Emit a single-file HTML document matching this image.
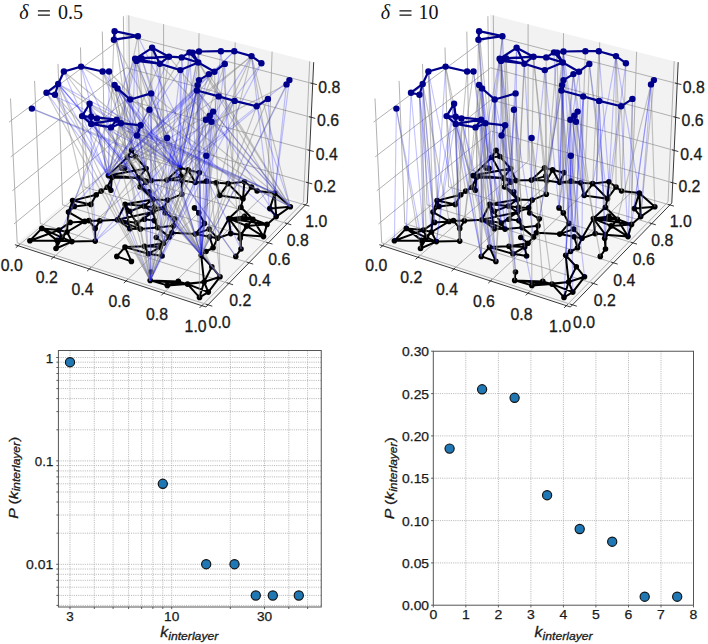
<!DOCTYPE html>
<html><head><meta charset="utf-8"><style>
html,body{margin:0;padding:0;background:#fff;}
body{width:708px;height:644px;overflow:hidden;}
svg{display:block;font-family:"Liberation Sans", sans-serif;}
</style></head><body>
<svg width="708" height="644" viewBox="0 0 708 644">
<g><polygon points="127.2,150.7 307.3,203 313.7,62.2 125.6,14.6" fill="#f2f2f2"/>
<polygon points="14.9,244.7 205.9,307 307.3,203 127.2,150.7" fill="#f5f5f5"/>
<g fill="none" stroke="#a4a4a4" stroke-width="0.85"><polyline points="18.1,245.8 130.2,151.6 128.8,15.4"/><polyline points="208,304.9 17.2,242.8 10.5,98.5"/><polyline points="53.4,257.3 163.6,161.3 163.6,24.2"/><polyline points="228.9,283.5 40.3,223.5 34.6,80.9"/><polyline points="89.4,269 197.6,171.1 199,33.2"/><polyline points="249,262.8 62.5,204.8 58,63.9"/><polyline points="126.1,281 232.2,181.2 235.2,42.4"/><polyline points="268.4,242.9 84,186.8 80.5,47.5"/><polyline points="163.5,293.2 267.5,191.5 272.1,51.7"/><polyline points="287.2,223.6 104.9,169.4 102.3,31.6"/><polyline points="201.8,305.7 303.5,201.9 309.7,61.2"/><polyline points="305.4,205 125,152.5 123.4,16.2"/><polyline points="13.9,224 126.9,131.1 308.2,182.8"/><polyline points="12.3,190.8 126.6,99.8 309.7,150.4"/><polyline points="10.7,156.9 126.2,67.8 311.2,117.3"/><polyline points="9,122.2 125.8,35.2 312.7,83.6"/></g>
<g fill="none" stroke="#222" stroke-width="0.9"><polyline points="14.9,244.7 205.9,307"/><polyline points="205.9,307 307.3,203"/><polyline points="307.3,203 313.7,62.2"/><polyline points="19.5,244.6 15.8,247.7"/><polyline points="205.7,304.1 212.3,306.2"/><polyline points="54.8,256.1 51.1,259.3"/><polyline points="226.6,282.7 233.1,284.8"/><polyline points="90.7,267.8 87.1,271.1"/><polyline points="246.7,262.1 253.2,264.1"/><polyline points="127.4,279.7 123.8,283.1"/><polyline points="266.2,242.2 272.5,244.1"/><polyline points="164.8,291.9 161.3,295.4"/><polyline points="285,222.9 291.3,224.8"/><polyline points="203.1,304.4 199.6,307.9"/><polyline points="303.2,204.3 309.4,206.1"/><polyline points="306,182.2 312.3,183.9"/><polyline points="307.5,149.8 313.8,151.5"/><polyline points="309,116.7 315.3,118.4"/><polyline points="310.5,83 316.9,84.6"/></g>
<g fill="#1a1a1a" stroke="#1a1a1a" stroke-width="0.3"><text x="11.7" y="271.1" font-size="15.6" text-anchor="middle" textLength="22" lengthAdjust="spacingAndGlyphs" >0.0</text><text x="46.7" y="282.8" font-size="15.6" text-anchor="middle" textLength="22" lengthAdjust="spacingAndGlyphs" >0.2</text><text x="82.5" y="294.5" font-size="15.6" text-anchor="middle" textLength="22" lengthAdjust="spacingAndGlyphs" >0.4</text><text x="119.4" y="306.7" font-size="15.6" text-anchor="middle" textLength="22" lengthAdjust="spacingAndGlyphs" >0.6</text><text x="157" y="319.6" font-size="15.6" text-anchor="middle" textLength="22" lengthAdjust="spacingAndGlyphs" >0.8</text><text x="195.6" y="331.5" font-size="15.6" text-anchor="middle" textLength="22" lengthAdjust="spacingAndGlyphs" >1.0</text><text x="219.6" y="327.5" font-size="15.6" text-anchor="middle" textLength="22" lengthAdjust="spacingAndGlyphs" >0.0</text><text x="240.2" y="306.2" font-size="15.6" text-anchor="middle" textLength="22" lengthAdjust="spacingAndGlyphs" >0.2</text><text x="259.8" y="285.5" font-size="15.6" text-anchor="middle" textLength="22" lengthAdjust="spacingAndGlyphs" >0.4</text><text x="279.3" y="265.3" font-size="15.6" text-anchor="middle" textLength="22" lengthAdjust="spacingAndGlyphs" >0.6</text><text x="297.8" y="245.7" font-size="15.6" text-anchor="middle" textLength="22" lengthAdjust="spacingAndGlyphs" >0.8</text><text x="316.3" y="226.8" font-size="15.6" text-anchor="middle" textLength="22" lengthAdjust="spacingAndGlyphs" >1.0</text><text x="324.9" y="191.5" font-size="15.6" text-anchor="middle" textLength="22" lengthAdjust="spacingAndGlyphs" >0.2</text><text x="326.8" y="159.6" font-size="15.6" text-anchor="middle" textLength="22" lengthAdjust="spacingAndGlyphs" >0.4</text><text x="328.1" y="126.2" font-size="15.6" text-anchor="middle" textLength="22" lengthAdjust="spacingAndGlyphs" >0.6</text><text x="329.2" y="92.7" font-size="15.6" text-anchor="middle" textLength="22" lengthAdjust="spacingAndGlyphs" >0.8</text></g></g>
<g transform="translate(364.5,0)"><polygon points="127.2,150.7 307.3,203 313.7,62.2 125.6,14.6" fill="#f2f2f2"/>
<polygon points="14.9,244.7 205.9,307 307.3,203 127.2,150.7" fill="#f5f5f5"/>
<g fill="none" stroke="#a4a4a4" stroke-width="0.85"><polyline points="18.1,245.8 130.2,151.6 128.8,15.4"/><polyline points="208,304.9 17.2,242.8 10.5,98.5"/><polyline points="53.4,257.3 163.6,161.3 163.6,24.2"/><polyline points="228.9,283.5 40.3,223.5 34.6,80.9"/><polyline points="89.4,269 197.6,171.1 199,33.2"/><polyline points="249,262.8 62.5,204.8 58,63.9"/><polyline points="126.1,281 232.2,181.2 235.2,42.4"/><polyline points="268.4,242.9 84,186.8 80.5,47.5"/><polyline points="163.5,293.2 267.5,191.5 272.1,51.7"/><polyline points="287.2,223.6 104.9,169.4 102.3,31.6"/><polyline points="201.8,305.7 303.5,201.9 309.7,61.2"/><polyline points="305.4,205 125,152.5 123.4,16.2"/><polyline points="13.9,224 126.9,131.1 308.2,182.8"/><polyline points="12.3,190.8 126.6,99.8 309.7,150.4"/><polyline points="10.7,156.9 126.2,67.8 311.2,117.3"/><polyline points="9,122.2 125.8,35.2 312.7,83.6"/></g>
<g fill="none" stroke="#222" stroke-width="0.9"><polyline points="14.9,244.7 205.9,307"/><polyline points="205.9,307 307.3,203"/><polyline points="307.3,203 313.7,62.2"/><polyline points="19.5,244.6 15.8,247.7"/><polyline points="205.7,304.1 212.3,306.2"/><polyline points="54.8,256.1 51.1,259.3"/><polyline points="226.6,282.7 233.1,284.8"/><polyline points="90.7,267.8 87.1,271.1"/><polyline points="246.7,262.1 253.2,264.1"/><polyline points="127.4,279.7 123.8,283.1"/><polyline points="266.2,242.2 272.5,244.1"/><polyline points="164.8,291.9 161.3,295.4"/><polyline points="285,222.9 291.3,224.8"/><polyline points="203.1,304.4 199.6,307.9"/><polyline points="303.2,204.3 309.4,206.1"/><polyline points="306,182.2 312.3,183.9"/><polyline points="307.5,149.8 313.8,151.5"/><polyline points="309,116.7 315.3,118.4"/><polyline points="310.5,83 316.9,84.6"/></g>
<g fill="#1a1a1a" stroke="#1a1a1a" stroke-width="0.3"><text x="11.7" y="271.1" font-size="15.6" text-anchor="middle" textLength="22" lengthAdjust="spacingAndGlyphs" >0.0</text><text x="46.7" y="282.8" font-size="15.6" text-anchor="middle" textLength="22" lengthAdjust="spacingAndGlyphs" >0.2</text><text x="82.5" y="294.5" font-size="15.6" text-anchor="middle" textLength="22" lengthAdjust="spacingAndGlyphs" >0.4</text><text x="119.4" y="306.7" font-size="15.6" text-anchor="middle" textLength="22" lengthAdjust="spacingAndGlyphs" >0.6</text><text x="157" y="319.6" font-size="15.6" text-anchor="middle" textLength="22" lengthAdjust="spacingAndGlyphs" >0.8</text><text x="195.6" y="331.5" font-size="15.6" text-anchor="middle" textLength="22" lengthAdjust="spacingAndGlyphs" >1.0</text><text x="219.6" y="327.5" font-size="15.6" text-anchor="middle" textLength="22" lengthAdjust="spacingAndGlyphs" >0.0</text><text x="240.2" y="306.2" font-size="15.6" text-anchor="middle" textLength="22" lengthAdjust="spacingAndGlyphs" >0.2</text><text x="259.8" y="285.5" font-size="15.6" text-anchor="middle" textLength="22" lengthAdjust="spacingAndGlyphs" >0.4</text><text x="279.3" y="265.3" font-size="15.6" text-anchor="middle" textLength="22" lengthAdjust="spacingAndGlyphs" >0.6</text><text x="297.8" y="245.7" font-size="15.6" text-anchor="middle" textLength="22" lengthAdjust="spacingAndGlyphs" >0.8</text><text x="316.3" y="226.8" font-size="15.6" text-anchor="middle" textLength="22" lengthAdjust="spacingAndGlyphs" >1.0</text><text x="324.9" y="191.5" font-size="15.6" text-anchor="middle" textLength="22" lengthAdjust="spacingAndGlyphs" >0.2</text><text x="326.8" y="159.6" font-size="15.6" text-anchor="middle" textLength="22" lengthAdjust="spacingAndGlyphs" >0.4</text><text x="328.1" y="126.2" font-size="15.6" text-anchor="middle" textLength="22" lengthAdjust="spacingAndGlyphs" >0.6</text><text x="329.2" y="92.7" font-size="15.6" text-anchor="middle" textLength="22" lengthAdjust="spacingAndGlyphs" >0.8</text></g></g>
<g><path d="M29.9 240.7L41.8 228.4M29.9 240.7L58.9 230.1M29.9 240.7L57.1 240.4M41.8 228.4L58.9 230.1M41.8 228.4L62.1 237.6M41.8 228.4L57.1 240.4M56.0 248.5L62.1 237.6M56.0 248.5L57.1 240.4M56.0 248.5L71.9 241.6M58.9 230.1L62.1 237.6M58.9 230.1L67.0 232.0M58.9 230.1L70.1 222.4M62.1 237.6L67.0 232.0M62.1 237.6L71.9 241.6M67.0 232.0L57.1 240.4M67.0 232.0L71.9 241.6M67.0 232.0L84.7 221.4M67.0 232.0L68.5 212.1M57.1 240.4L71.9 241.6M71.9 241.6L95.2 241.1M95.2 241.1L95.2 228.4M95.2 228.4L88.9 220.6M95.2 228.4L99.9 220.8M88.9 220.6L84.7 221.4M88.9 220.6L99.9 220.8M84.7 221.4L70.1 222.4M84.7 221.4L68.5 212.1M68.5 212.1L72.6 200.6M68.5 212.1L74.4 206.4M72.6 200.6L74.4 206.4M72.6 200.6L90.8 204.4M72.6 200.6L96.3 194.8M74.4 206.4L90.8 204.4M90.8 204.4L96.3 194.8M96.3 194.8L101.2 191.1M101.2 191.1L107.3 187.3M107.3 187.3L110.8 190.3M107.3 187.3L111.9 177.5M110.8 190.3L111.9 177.5M117.4 219.8L125.1 204.3M117.4 219.8L129.8 228.8M117.4 219.8L136.7 223.1M117.4 219.8L140.5 229.1M117.4 219.8L152.9 212.1M117.4 219.8L99.9 220.8M125.1 204.3L129.8 228.8M125.1 204.3L136.7 223.1M125.1 204.3L152.9 199.4M125.1 204.3L143.9 206.1M125.1 204.3L129.9 211.2M116.8 256.4L125.0 247.1M116.8 256.4L131.4 261.4M125.0 247.1L131.4 261.4M125.0 247.1L144.5 246.2M125.0 247.1L148.4 253.8M144.5 246.2L148.4 253.8M144.5 246.2L163.5 243.2M144.5 246.2L160.2 247.1M129.8 228.8L140.5 229.1M136.7 223.1L140.5 229.1M136.7 223.1L144.4 219.2M136.7 223.1L152.9 212.1M148.4 253.8L162.1 256.0M148.4 253.8L160.2 247.1M162.1 256.0L160.2 247.1M163.5 243.2L169.1 236.9M163.5 243.2L160.2 247.1M163.5 243.2L156.3 237.5M151.0 272.0L150.2 280.4M150.2 280.4L167.3 285.4M150.2 280.4L178.3 281.4M150.2 280.4L187.5 284.1M167.3 285.4L178.3 281.4M167.3 285.4L187.5 284.1M167.3 285.4L204.1 282.0M178.3 281.4L187.5 284.1M187.5 284.1L199.5 297.4M187.5 284.1L208.3 292.1M187.5 284.1L204.1 282.0M199.5 297.4L208.3 292.1M199.5 297.4L204.1 282.0M208.3 292.1L220.0 276.8M208.3 292.1L204.1 282.0M201.2 255.2L211.8 266.7M201.2 255.2L204.1 282.0M201.2 255.2L206.0 251.5M195.2 234.1L171.9 232.7M195.2 234.1L204.4 223.4M195.2 234.1L209.2 229.1M195.2 234.1L209.6 236.8M169.1 236.9L171.9 232.7M169.1 236.9L157.6 227.6M171.9 232.7L173.5 225.7M174.8 218.8L165.2 213.0M174.8 218.8L173.5 225.7M140.5 229.1L157.6 227.6M144.4 219.2L154.3 220.6M154.3 220.6L157.6 227.6M235.8 256.4L241.0 249.0M241.0 249.0L240.2 238.3M241.0 249.0L240.9 234.7M263.5 236.6L267.0 224.4M263.5 236.6L252.9 219.2M263.5 236.6L240.9 234.7M263.5 236.6L246.6 225.9M267.0 224.4L276.2 216.6M267.0 224.4L228.9 218.5M267.0 224.4L252.9 219.2M267.0 224.4L246.6 225.9M276.2 216.6L274.8 193.1M276.2 216.6L269.8 208.6M276.2 216.6L290.3 206.8M228.9 218.5L252.9 219.2M228.9 218.5L240.9 207.2M228.9 218.5L244.4 216.4M228.9 218.5L240.9 234.7M228.9 218.5L230.7 233.6M228.9 218.5L246.6 225.9M228.9 218.5L217.5 238.2M252.9 219.2L240.9 207.2M252.9 219.2L244.4 216.4M252.9 219.2L240.9 234.7M213.1 247.8L206.0 251.5M213.1 247.8L217.5 238.2M213.1 247.8L209.6 236.8M220.0 276.8L211.8 266.7M220.0 276.8L204.1 282.0M211.8 266.7L204.1 282.0M216.1 182.8L228.2 183.6M216.1 182.8L219.7 195.5M216.1 182.8L195.2 182.5M216.1 182.8L206.5 181.1M228.2 183.6L244.4 181.8M228.2 183.6L219.7 195.5M228.2 183.6L243.0 198.7M244.4 181.8L251.5 187.0M244.4 181.8L243.0 198.7M251.5 187.0L257.1 191.0M251.5 187.0L243.0 198.7M257.1 191.0L274.8 193.1M219.7 195.5L243.0 198.7M243.0 198.7L240.9 207.2M274.8 193.1L269.8 208.6M274.8 193.1L290.3 206.8M269.8 208.6L290.3 206.8M240.9 234.7L230.7 233.6M240.9 234.7L246.6 225.9M131.6 150.4L127.4 157.2M131.6 150.4L135.4 156.5M127.4 157.2L135.4 156.5M127.4 157.2L108.4 175.6M127.4 157.2L138.8 178.1M135.4 156.5L146.1 168.5M124.6 168.4L121.6 167.9M146.1 168.5L151.4 180.5M146.1 168.5L108.4 175.6M146.1 168.5L138.8 178.1M111.9 177.5L108.4 175.6M111.9 177.5L138.8 178.1M146.0 182.2L140.1 187.0M146.0 182.2L151.4 180.5M146.0 182.2L138.8 178.1M140.1 187.0L152.9 199.4M140.1 187.0L149.2 191.9M140.1 187.0L138.8 178.1M151.4 180.5L166.9 180.1M151.4 180.5L138.8 178.1M166.9 180.1L180.0 167.8M166.9 180.1L181.1 176.1M166.9 180.1L182.0 180.4M180.0 167.8L188.1 169.9M180.0 167.8L199.5 172.6M180.0 167.8L181.1 176.1M180.0 167.8L182.0 180.4M188.1 169.9L199.5 172.6M188.1 169.9L195.2 182.5M188.1 169.9L182.0 180.4M199.5 172.6L195.2 182.5M195.2 182.5L206.5 181.1M195.2 182.5L182.0 180.4M181.8 194.2L167.7 200.1M181.8 194.2L182.0 180.4M152.9 199.4L167.7 200.1M152.9 199.4L149.2 191.9M152.9 199.4L143.9 206.1M152.9 199.4L154.1 207.4M167.7 200.1L164.2 207.9M152.9 212.1L164.2 207.9M152.9 212.1L143.9 206.1M152.9 212.1L157.6 227.6M164.2 207.9L154.1 207.4M164.2 207.9L165.2 213.0M194.5 207.9L198.8 212.9M198.8 212.9L204.4 223.4M108.4 175.6L138.8 178.1M143.9 206.1L129.9 211.2M143.9 206.1L154.1 207.4M157.6 227.6L173.5 225.7M230.7 233.6L217.5 238.2M217.5 238.2L209.2 229.1M217.5 238.2L209.6 236.8" stroke="#000" stroke-width="2" fill="none" stroke-linecap="round"/>
<g fill="#000"><circle cx="29.9" cy="240.7" r="2.8"/><circle cx="41.8" cy="228.4" r="2.8"/><circle cx="56.0" cy="248.5" r="2.8"/><circle cx="58.9" cy="230.1" r="2.8"/><circle cx="62.1" cy="237.6" r="2.8"/><circle cx="67.0" cy="232.0" r="2.8"/><circle cx="57.1" cy="240.4" r="2.8"/><circle cx="71.9" cy="241.6" r="2.8"/><circle cx="95.2" cy="241.1" r="2.8"/><circle cx="95.2" cy="228.4" r="2.8"/><circle cx="88.9" cy="220.6" r="2.8"/><circle cx="84.7" cy="221.4" r="2.8"/><circle cx="70.1" cy="222.4" r="2.8"/><circle cx="68.5" cy="212.1" r="2.8"/><circle cx="72.6" cy="200.6" r="2.8"/><circle cx="74.4" cy="206.4" r="2.8"/><circle cx="90.8" cy="204.4" r="2.8"/><circle cx="96.3" cy="194.8" r="2.8"/><circle cx="101.2" cy="191.1" r="2.8"/><circle cx="107.3" cy="187.3" r="2.8"/><circle cx="110.8" cy="190.3" r="2.8"/><circle cx="117.4" cy="219.8" r="2.8"/><circle cx="125.1" cy="204.3" r="2.8"/><circle cx="116.8" cy="256.4" r="2.8"/><circle cx="125.0" cy="247.1" r="2.8"/><circle cx="131.4" cy="261.4" r="2.8"/><circle cx="144.5" cy="246.2" r="2.8"/><circle cx="129.8" cy="228.8" r="2.8"/><circle cx="136.7" cy="223.1" r="2.8"/><circle cx="148.4" cy="253.8" r="2.8"/><circle cx="162.1" cy="256.0" r="2.8"/><circle cx="163.5" cy="243.2" r="2.8"/><circle cx="151.0" cy="272.0" r="2.8"/><circle cx="150.2" cy="280.4" r="2.8"/><circle cx="167.3" cy="285.4" r="2.8"/><circle cx="178.3" cy="281.4" r="2.8"/><circle cx="187.5" cy="284.1" r="2.8"/><circle cx="199.5" cy="297.4" r="2.8"/><circle cx="208.3" cy="292.1" r="2.8"/><circle cx="201.2" cy="255.2" r="2.8"/><circle cx="195.2" cy="234.1" r="2.8"/><circle cx="169.1" cy="236.9" r="2.8"/><circle cx="171.9" cy="232.7" r="2.8"/><circle cx="174.8" cy="218.8" r="2.8"/><circle cx="140.5" cy="229.1" r="2.8"/><circle cx="144.4" cy="219.2" r="2.8"/><circle cx="154.3" cy="220.6" r="2.8"/><circle cx="235.8" cy="256.4" r="2.8"/><circle cx="241.0" cy="249.0" r="2.8"/><circle cx="240.2" cy="238.3" r="2.8"/><circle cx="263.5" cy="236.6" r="2.8"/><circle cx="267.0" cy="224.4" r="2.8"/><circle cx="276.2" cy="216.6" r="2.8"/><circle cx="228.9" cy="218.5" r="2.8"/><circle cx="252.9" cy="219.2" r="2.8"/><circle cx="213.1" cy="247.8" r="2.8"/><circle cx="220.0" cy="276.8" r="2.8"/><circle cx="211.8" cy="266.7" r="2.8"/><circle cx="216.1" cy="182.8" r="2.8"/><circle cx="228.2" cy="183.6" r="2.8"/><circle cx="244.4" cy="181.8" r="2.8"/><circle cx="251.5" cy="187.0" r="2.8"/><circle cx="257.1" cy="191.0" r="2.8"/><circle cx="219.7" cy="195.5" r="2.8"/><circle cx="243.0" cy="198.7" r="2.8"/><circle cx="274.8" cy="193.1" r="2.8"/><circle cx="269.8" cy="208.6" r="2.8"/><circle cx="290.3" cy="206.8" r="2.8"/><circle cx="240.9" cy="207.2" r="2.8"/><circle cx="244.4" cy="216.4" r="2.8"/><circle cx="240.9" cy="234.7" r="2.8"/><circle cx="131.6" cy="150.4" r="2.8"/><circle cx="127.4" cy="157.2" r="2.8"/><circle cx="135.4" cy="156.5" r="2.8"/><circle cx="124.6" cy="168.4" r="2.8"/><circle cx="146.1" cy="168.5" r="2.8"/><circle cx="111.9" cy="177.5" r="2.8"/><circle cx="146.0" cy="182.2" r="2.8"/><circle cx="140.1" cy="187.0" r="2.8"/><circle cx="151.4" cy="180.5" r="2.8"/><circle cx="166.9" cy="180.1" r="2.8"/><circle cx="180.0" cy="167.8" r="2.8"/><circle cx="188.1" cy="169.9" r="2.8"/><circle cx="199.5" cy="172.6" r="2.8"/><circle cx="181.1" cy="176.1" r="2.8"/><circle cx="195.2" cy="182.5" r="2.8"/><circle cx="206.5" cy="181.1" r="2.8"/><circle cx="181.8" cy="194.2" r="2.8"/><circle cx="152.9" cy="199.4" r="2.8"/><circle cx="167.7" cy="200.1" r="2.8"/><circle cx="152.9" cy="212.1" r="2.8"/><circle cx="164.2" cy="207.9" r="2.8"/><circle cx="194.5" cy="207.9" r="2.8"/><circle cx="198.8" cy="212.9" r="2.8"/><circle cx="204.4" cy="223.4" r="2.8"/><circle cx="108.4" cy="175.6" r="2.8"/><circle cx="121.6" cy="167.9" r="2.8"/><circle cx="149.2" cy="191.9" r="2.8"/><circle cx="99.9" cy="220.8" r="2.8"/><circle cx="138.8" cy="178.1" r="2.8"/><circle cx="143.9" cy="206.1" r="2.8"/><circle cx="129.9" cy="211.2" r="2.8"/><circle cx="154.1" cy="207.4" r="2.8"/><circle cx="157.6" cy="227.6" r="2.8"/><circle cx="165.2" cy="213.0" r="2.8"/><circle cx="173.5" cy="225.7" r="2.8"/><circle cx="182.0" cy="180.4" r="2.8"/><circle cx="230.7" cy="233.6" r="2.8"/><circle cx="246.6" cy="225.9" r="2.8"/><circle cx="160.2" cy="247.1" r="2.8"/><circle cx="156.3" cy="237.5" r="2.8"/><circle cx="204.1" cy="282.0" r="2.8"/><circle cx="206.0" cy="251.5" r="2.8"/><circle cx="217.5" cy="238.2" r="2.8"/><circle cx="209.2" cy="229.1" r="2.8"/><circle cx="209.6" cy="236.8" r="2.8"/></g></g><g transform="translate(364.5,0)"><path d="M29.9 240.7L41.8 228.4M29.9 240.7L58.9 230.1M29.9 240.7L57.1 240.4M41.8 228.4L58.9 230.1M41.8 228.4L62.1 237.6M41.8 228.4L57.1 240.4M56.0 248.5L62.1 237.6M56.0 248.5L57.1 240.4M56.0 248.5L71.9 241.6M58.9 230.1L62.1 237.6M58.9 230.1L67.0 232.0M58.9 230.1L70.1 222.4M62.1 237.6L67.0 232.0M62.1 237.6L71.9 241.6M67.0 232.0L57.1 240.4M67.0 232.0L71.9 241.6M67.0 232.0L84.7 221.4M67.0 232.0L68.5 212.1M57.1 240.4L71.9 241.6M71.9 241.6L95.2 241.1M95.2 241.1L95.2 228.4M95.2 228.4L88.9 220.6M95.2 228.4L99.9 220.8M88.9 220.6L84.7 221.4M88.9 220.6L99.9 220.8M84.7 221.4L70.1 222.4M84.7 221.4L68.5 212.1M68.5 212.1L72.6 200.6M68.5 212.1L74.4 206.4M72.6 200.6L74.4 206.4M72.6 200.6L90.8 204.4M72.6 200.6L96.3 194.8M74.4 206.4L90.8 204.4M90.8 204.4L96.3 194.8M96.3 194.8L101.2 191.1M101.2 191.1L107.3 187.3M107.3 187.3L110.8 190.3M107.3 187.3L111.9 177.5M110.8 190.3L111.9 177.5M117.4 219.8L125.1 204.3M117.4 219.8L129.8 228.8M117.4 219.8L136.7 223.1M117.4 219.8L140.5 229.1M117.4 219.8L152.9 212.1M117.4 219.8L99.9 220.8M125.1 204.3L129.8 228.8M125.1 204.3L136.7 223.1M125.1 204.3L152.9 199.4M125.1 204.3L143.9 206.1M125.1 204.3L129.9 211.2M116.8 256.4L125.0 247.1M116.8 256.4L131.4 261.4M125.0 247.1L131.4 261.4M125.0 247.1L144.5 246.2M125.0 247.1L148.4 253.8M144.5 246.2L148.4 253.8M144.5 246.2L163.5 243.2M144.5 246.2L160.2 247.1M129.8 228.8L140.5 229.1M136.7 223.1L140.5 229.1M136.7 223.1L144.4 219.2M136.7 223.1L152.9 212.1M148.4 253.8L162.1 256.0M148.4 253.8L160.2 247.1M162.1 256.0L160.2 247.1M163.5 243.2L169.1 236.9M163.5 243.2L160.2 247.1M163.5 243.2L156.3 237.5M151.0 272.0L150.2 280.4M150.2 280.4L167.3 285.4M150.2 280.4L178.3 281.4M150.2 280.4L187.5 284.1M167.3 285.4L178.3 281.4M167.3 285.4L187.5 284.1M167.3 285.4L204.1 282.0M178.3 281.4L187.5 284.1M187.5 284.1L199.5 297.4M187.5 284.1L208.3 292.1M187.5 284.1L204.1 282.0M199.5 297.4L208.3 292.1M199.5 297.4L204.1 282.0M208.3 292.1L220.0 276.8M208.3 292.1L204.1 282.0M201.2 255.2L211.8 266.7M201.2 255.2L204.1 282.0M201.2 255.2L206.0 251.5M195.2 234.1L171.9 232.7M195.2 234.1L204.4 223.4M195.2 234.1L209.2 229.1M195.2 234.1L209.6 236.8M169.1 236.9L171.9 232.7M169.1 236.9L157.6 227.6M171.9 232.7L173.5 225.7M174.8 218.8L165.2 213.0M174.8 218.8L173.5 225.7M140.5 229.1L157.6 227.6M144.4 219.2L154.3 220.6M154.3 220.6L157.6 227.6M235.8 256.4L241.0 249.0M241.0 249.0L240.2 238.3M241.0 249.0L240.9 234.7M263.5 236.6L267.0 224.4M263.5 236.6L252.9 219.2M263.5 236.6L240.9 234.7M263.5 236.6L246.6 225.9M267.0 224.4L276.2 216.6M267.0 224.4L228.9 218.5M267.0 224.4L252.9 219.2M267.0 224.4L246.6 225.9M276.2 216.6L274.8 193.1M276.2 216.6L269.8 208.6M276.2 216.6L290.3 206.8M228.9 218.5L252.9 219.2M228.9 218.5L240.9 207.2M228.9 218.5L244.4 216.4M228.9 218.5L240.9 234.7M228.9 218.5L230.7 233.6M228.9 218.5L246.6 225.9M228.9 218.5L217.5 238.2M252.9 219.2L240.9 207.2M252.9 219.2L244.4 216.4M252.9 219.2L240.9 234.7M213.1 247.8L206.0 251.5M213.1 247.8L217.5 238.2M213.1 247.8L209.6 236.8M220.0 276.8L211.8 266.7M220.0 276.8L204.1 282.0M211.8 266.7L204.1 282.0M216.1 182.8L228.2 183.6M216.1 182.8L219.7 195.5M216.1 182.8L195.2 182.5M216.1 182.8L206.5 181.1M228.2 183.6L244.4 181.8M228.2 183.6L219.7 195.5M228.2 183.6L243.0 198.7M244.4 181.8L251.5 187.0M244.4 181.8L243.0 198.7M251.5 187.0L257.1 191.0M251.5 187.0L243.0 198.7M257.1 191.0L274.8 193.1M219.7 195.5L243.0 198.7M243.0 198.7L240.9 207.2M274.8 193.1L269.8 208.6M274.8 193.1L290.3 206.8M269.8 208.6L290.3 206.8M240.9 234.7L230.7 233.6M240.9 234.7L246.6 225.9M131.6 150.4L127.4 157.2M131.6 150.4L135.4 156.5M127.4 157.2L135.4 156.5M127.4 157.2L108.4 175.6M127.4 157.2L138.8 178.1M135.4 156.5L146.1 168.5M124.6 168.4L121.6 167.9M146.1 168.5L151.4 180.5M146.1 168.5L108.4 175.6M146.1 168.5L138.8 178.1M111.9 177.5L108.4 175.6M111.9 177.5L138.8 178.1M146.0 182.2L140.1 187.0M146.0 182.2L151.4 180.5M146.0 182.2L138.8 178.1M140.1 187.0L152.9 199.4M140.1 187.0L149.2 191.9M140.1 187.0L138.8 178.1M151.4 180.5L166.9 180.1M151.4 180.5L138.8 178.1M166.9 180.1L180.0 167.8M166.9 180.1L181.1 176.1M166.9 180.1L182.0 180.4M180.0 167.8L188.1 169.9M180.0 167.8L199.5 172.6M180.0 167.8L181.1 176.1M180.0 167.8L182.0 180.4M188.1 169.9L199.5 172.6M188.1 169.9L195.2 182.5M188.1 169.9L182.0 180.4M199.5 172.6L195.2 182.5M195.2 182.5L206.5 181.1M195.2 182.5L182.0 180.4M181.8 194.2L167.7 200.1M181.8 194.2L182.0 180.4M152.9 199.4L167.7 200.1M152.9 199.4L149.2 191.9M152.9 199.4L143.9 206.1M152.9 199.4L154.1 207.4M167.7 200.1L164.2 207.9M152.9 212.1L164.2 207.9M152.9 212.1L143.9 206.1M152.9 212.1L157.6 227.6M164.2 207.9L154.1 207.4M164.2 207.9L165.2 213.0M194.5 207.9L198.8 212.9M198.8 212.9L204.4 223.4M108.4 175.6L138.8 178.1M143.9 206.1L129.9 211.2M143.9 206.1L154.1 207.4M157.6 227.6L173.5 225.7M230.7 233.6L217.5 238.2M217.5 238.2L209.2 229.1M217.5 238.2L209.6 236.8" stroke="#000" stroke-width="2" fill="none" stroke-linecap="round"/>
<g fill="#000"><circle cx="29.9" cy="240.7" r="2.8"/><circle cx="41.8" cy="228.4" r="2.8"/><circle cx="56.0" cy="248.5" r="2.8"/><circle cx="58.9" cy="230.1" r="2.8"/><circle cx="62.1" cy="237.6" r="2.8"/><circle cx="67.0" cy="232.0" r="2.8"/><circle cx="57.1" cy="240.4" r="2.8"/><circle cx="71.9" cy="241.6" r="2.8"/><circle cx="95.2" cy="241.1" r="2.8"/><circle cx="95.2" cy="228.4" r="2.8"/><circle cx="88.9" cy="220.6" r="2.8"/><circle cx="84.7" cy="221.4" r="2.8"/><circle cx="70.1" cy="222.4" r="2.8"/><circle cx="68.5" cy="212.1" r="2.8"/><circle cx="72.6" cy="200.6" r="2.8"/><circle cx="74.4" cy="206.4" r="2.8"/><circle cx="90.8" cy="204.4" r="2.8"/><circle cx="96.3" cy="194.8" r="2.8"/><circle cx="101.2" cy="191.1" r="2.8"/><circle cx="107.3" cy="187.3" r="2.8"/><circle cx="110.8" cy="190.3" r="2.8"/><circle cx="117.4" cy="219.8" r="2.8"/><circle cx="125.1" cy="204.3" r="2.8"/><circle cx="116.8" cy="256.4" r="2.8"/><circle cx="125.0" cy="247.1" r="2.8"/><circle cx="131.4" cy="261.4" r="2.8"/><circle cx="144.5" cy="246.2" r="2.8"/><circle cx="129.8" cy="228.8" r="2.8"/><circle cx="136.7" cy="223.1" r="2.8"/><circle cx="148.4" cy="253.8" r="2.8"/><circle cx="162.1" cy="256.0" r="2.8"/><circle cx="163.5" cy="243.2" r="2.8"/><circle cx="151.0" cy="272.0" r="2.8"/><circle cx="150.2" cy="280.4" r="2.8"/><circle cx="167.3" cy="285.4" r="2.8"/><circle cx="178.3" cy="281.4" r="2.8"/><circle cx="187.5" cy="284.1" r="2.8"/><circle cx="199.5" cy="297.4" r="2.8"/><circle cx="208.3" cy="292.1" r="2.8"/><circle cx="201.2" cy="255.2" r="2.8"/><circle cx="195.2" cy="234.1" r="2.8"/><circle cx="169.1" cy="236.9" r="2.8"/><circle cx="171.9" cy="232.7" r="2.8"/><circle cx="174.8" cy="218.8" r="2.8"/><circle cx="140.5" cy="229.1" r="2.8"/><circle cx="144.4" cy="219.2" r="2.8"/><circle cx="154.3" cy="220.6" r="2.8"/><circle cx="235.8" cy="256.4" r="2.8"/><circle cx="241.0" cy="249.0" r="2.8"/><circle cx="240.2" cy="238.3" r="2.8"/><circle cx="263.5" cy="236.6" r="2.8"/><circle cx="267.0" cy="224.4" r="2.8"/><circle cx="276.2" cy="216.6" r="2.8"/><circle cx="228.9" cy="218.5" r="2.8"/><circle cx="252.9" cy="219.2" r="2.8"/><circle cx="213.1" cy="247.8" r="2.8"/><circle cx="220.0" cy="276.8" r="2.8"/><circle cx="211.8" cy="266.7" r="2.8"/><circle cx="216.1" cy="182.8" r="2.8"/><circle cx="228.2" cy="183.6" r="2.8"/><circle cx="244.4" cy="181.8" r="2.8"/><circle cx="251.5" cy="187.0" r="2.8"/><circle cx="257.1" cy="191.0" r="2.8"/><circle cx="219.7" cy="195.5" r="2.8"/><circle cx="243.0" cy="198.7" r="2.8"/><circle cx="274.8" cy="193.1" r="2.8"/><circle cx="269.8" cy="208.6" r="2.8"/><circle cx="290.3" cy="206.8" r="2.8"/><circle cx="240.9" cy="207.2" r="2.8"/><circle cx="244.4" cy="216.4" r="2.8"/><circle cx="240.9" cy="234.7" r="2.8"/><circle cx="131.6" cy="150.4" r="2.8"/><circle cx="127.4" cy="157.2" r="2.8"/><circle cx="135.4" cy="156.5" r="2.8"/><circle cx="124.6" cy="168.4" r="2.8"/><circle cx="146.1" cy="168.5" r="2.8"/><circle cx="111.9" cy="177.5" r="2.8"/><circle cx="146.0" cy="182.2" r="2.8"/><circle cx="140.1" cy="187.0" r="2.8"/><circle cx="151.4" cy="180.5" r="2.8"/><circle cx="166.9" cy="180.1" r="2.8"/><circle cx="180.0" cy="167.8" r="2.8"/><circle cx="188.1" cy="169.9" r="2.8"/><circle cx="199.5" cy="172.6" r="2.8"/><circle cx="181.1" cy="176.1" r="2.8"/><circle cx="195.2" cy="182.5" r="2.8"/><circle cx="206.5" cy="181.1" r="2.8"/><circle cx="181.8" cy="194.2" r="2.8"/><circle cx="152.9" cy="199.4" r="2.8"/><circle cx="167.7" cy="200.1" r="2.8"/><circle cx="152.9" cy="212.1" r="2.8"/><circle cx="164.2" cy="207.9" r="2.8"/><circle cx="194.5" cy="207.9" r="2.8"/><circle cx="198.8" cy="212.9" r="2.8"/><circle cx="204.4" cy="223.4" r="2.8"/><circle cx="108.4" cy="175.6" r="2.8"/><circle cx="121.6" cy="167.9" r="2.8"/><circle cx="149.2" cy="191.9" r="2.8"/><circle cx="99.9" cy="220.8" r="2.8"/><circle cx="138.8" cy="178.1" r="2.8"/><circle cx="143.9" cy="206.1" r="2.8"/><circle cx="129.9" cy="211.2" r="2.8"/><circle cx="154.1" cy="207.4" r="2.8"/><circle cx="157.6" cy="227.6" r="2.8"/><circle cx="165.2" cy="213.0" r="2.8"/><circle cx="173.5" cy="225.7" r="2.8"/><circle cx="182.0" cy="180.4" r="2.8"/><circle cx="230.7" cy="233.6" r="2.8"/><circle cx="246.6" cy="225.9" r="2.8"/><circle cx="160.2" cy="247.1" r="2.8"/><circle cx="156.3" cy="237.5" r="2.8"/><circle cx="204.1" cy="282.0" r="2.8"/><circle cx="206.0" cy="251.5" r="2.8"/><circle cx="217.5" cy="238.2" r="2.8"/><circle cx="209.2" cy="229.1" r="2.8"/><circle cx="209.6" cy="236.8" r="2.8"/></g></g>
<g stroke="#8c8c8c" stroke-opacity="0.5" stroke-width="1.15" fill="none"><path d="M46.5 92.7L150.2 280.4"/><path d="M55.0 94.8L150.2 280.4"/><path d="M55.0 94.8L201.2 255.2"/><path d="M58.2 83.9L95.2 241.1"/><path d="M58.2 83.9L180.0 167.8"/><path d="M58.2 83.9L150.2 280.4"/><path d="M63.9 71.5L180.0 167.8"/><path d="M63.9 71.5L201.2 255.2"/><path d="M81.1 66.6L290.3 206.8"/><path d="M102.6 71.5L131.6 150.4"/><path d="M102.6 71.5L201.2 255.2"/><path d="M109.0 71.5L150.2 280.4"/><path d="M109.0 71.5L244.4 216.4"/><path d="M89.6 103.8L290.3 206.8"/><path d="M114.6 31.2L131.6 150.4"/><path d="M114.6 31.2L163.5 243.2"/><path d="M113.9 39.7L180.0 167.8"/><path d="M113.9 39.7L108.4 175.6"/><path d="M137.9 36.2L108.4 175.6"/><path d="M137.9 36.2L146.1 168.5"/><path d="M152.1 47.8L146.1 168.5"/><path d="M152.1 47.8L150.2 280.4"/><path d="M135.1 58.8L108.4 175.6"/><path d="M135.1 58.8L180.0 167.8"/><path d="M135.1 58.8L163.5 243.2"/><path d="M135.1 58.8L201.2 255.2"/><path d="M141.5 58.1L201.2 255.2"/><path d="M159.8 63.7L167.7 200.1"/><path d="M159.8 63.7L108.4 175.6"/><path d="M159.8 63.7L290.3 206.8"/><path d="M169.0 56.7L290.3 206.8"/><path d="M169.0 56.7L151.4 180.5"/><path d="M181.7 57.4L108.4 175.6"/><path d="M189.5 52.4L180.0 167.8"/><path d="M199.0 51.5L195.2 182.5"/><path d="M199.0 51.5L150.2 280.4"/><path d="M198.3 62.5L220.0 276.8"/><path d="M198.3 62.5L201.2 255.2"/><path d="M198.3 62.5L180.0 167.8"/><path d="M114.6 84.9L150.2 280.4"/><path d="M114.6 84.9L201.2 255.2"/><path d="M114.6 84.9L62.1 237.6"/><path d="M114.6 84.9L163.5 243.2"/><path d="M114.6 84.9L127.4 157.2"/><path d="M117.5 88.4L235.8 256.4"/><path d="M130.2 99.5L108.4 175.6"/><path d="M151.1 93.4L274.8 193.1"/><path d="M199.0 80.1L199.5 297.4"/><path d="M196.9 90.5L150.2 280.4"/><path d="M196.9 90.5L181.8 194.2"/><path d="M192.6 52.6L290.3 206.8"/><path d="M192.6 52.6L274.8 193.1"/><path d="M220.9 51.2L241.0 249.0"/><path d="M234.3 51.2L241.0 249.0"/><path d="M251.5 56.1L131.6 150.4"/><path d="M251.5 56.1L108.4 175.6"/><path d="M251.5 56.1L290.3 206.8"/><path d="M251.5 56.1L150.2 280.4"/><path d="M251.5 56.1L201.2 255.2"/><path d="M251.5 56.1L274.8 193.1"/><path d="M224.8 63.9L150.2 280.4"/><path d="M214.5 71.7L152.9 212.1"/><path d="M214.5 71.7L220.0 276.8"/><path d="M214.5 71.7L99.9 220.8"/><path d="M208.9 74.1L131.6 150.4"/><path d="M208.9 74.1L290.3 206.8"/><path d="M218.7 96.4L201.2 255.2"/><path d="M218.7 96.4L108.4 175.6"/><path d="M234.6 100.9L156.3 237.5"/><path d="M234.6 100.9L180.0 167.8"/><path d="M256.6 106.3L201.2 255.2"/><path d="M267.9 98.9L201.2 255.2"/><path d="M286.5 84.4L108.4 175.6"/><path d="M286.5 84.4L201.2 255.2"/><path d="M213.1 111.6L108.4 175.6"/><path d="M213.1 111.6L201.2 255.2"/><path d="M209.8 115.8L209.6 236.8"/><path d="M209.8 115.8L180.0 167.8"/><path d="M31.9 108.6L180.0 167.8"/><path d="M82.1 116.1L95.2 241.1"/><path d="M91.2 123.9L201.2 255.2"/><path d="M111.0 127.4L150.2 280.4"/><path d="M111.0 127.4L220.0 276.8"/><path d="M120.9 123.2L195.2 182.5"/><path d="M120.9 123.2L146.1 168.5"/><path d="M120.9 123.2L274.8 193.1"/><path d="M91.2 116.8L150.2 280.4"/><path d="M91.2 116.8L180.0 167.8"/><path d="M140.6 125.3L201.2 255.2"/><path d="M140.6 125.3L211.8 266.7"/><path d="M137.0 135.5L150.2 280.4"/><path d="M137.0 135.5L274.8 193.1"/><path d="M167.1 138.0L150.2 280.4"/><path d="M167.1 138.0L108.4 175.6"/><path d="M205.9 119.7L150.2 280.4"/><path d="M211.5 121.8L150.2 280.4"/><path d="M206.3 155.7L129.8 228.8"/><path d="M96.9 118.5L220.0 276.8"/><path d="M96.9 118.5L201.2 255.2"/><path d="M96.9 118.5L108.4 175.6"/></g><g stroke="#0000ff" stroke-opacity="0.23" stroke-width="1.15" fill="none"><path d="M46.5 92.7L274.8 193.1"/><path d="M46.5 92.7L108.4 175.6"/><path d="M55.0 94.8L108.4 175.6"/><path d="M58.2 83.9L108.4 175.6"/><path d="M58.2 83.9L174.8 218.8"/><path d="M58.2 83.9L290.3 206.8"/><path d="M58.2 83.9L201.2 255.2"/><path d="M58.2 83.9L220.0 276.8"/><path d="M63.9 71.5L150.2 280.4"/><path d="M81.1 66.6L143.9 206.1"/><path d="M81.1 66.6L108.4 175.6"/><path d="M102.6 71.5L180.0 167.8"/><path d="M109.0 71.5L108.4 175.6"/><path d="M89.6 103.8L95.2 241.1"/><path d="M89.6 103.8L180.0 167.8"/><path d="M89.6 103.8L108.4 175.6"/><path d="M114.6 31.2L146.1 168.5"/><path d="M137.9 36.2L241.0 249.0"/><path d="M152.1 47.8L180.0 167.8"/><path d="M135.1 58.8L150.2 280.4"/><path d="M135.1 58.8L131.6 150.4"/><path d="M135.1 58.8L57.1 240.4"/><path d="M136.5 60.9L180.0 167.8"/><path d="M136.5 60.9L108.4 175.6"/><path d="M141.5 58.1L180.0 167.8"/><path d="M159.8 63.7L150.2 280.4"/><path d="M169.0 56.7L95.2 241.1"/><path d="M180.3 70.1L180.0 167.8"/><path d="M180.3 70.1L108.4 175.6"/><path d="M180.3 70.1L164.2 207.9"/><path d="M181.7 57.4L180.0 167.8"/><path d="M181.7 57.4L201.2 255.2"/><path d="M189.5 52.4L201.2 255.2"/><path d="M189.5 52.4L167.7 200.1"/><path d="M199.0 51.5L163.5 243.2"/><path d="M114.6 84.9L235.8 256.4"/><path d="M117.5 88.4L180.0 167.8"/><path d="M117.5 88.4L146.1 168.5"/><path d="M130.2 99.5L131.6 150.4"/><path d="M130.2 99.5L180.0 167.8"/><path d="M151.1 93.4L201.2 255.2"/><path d="M151.1 93.4L150.2 280.4"/><path d="M199.0 80.1L209.2 229.1"/><path d="M199.0 80.1L201.2 255.2"/><path d="M197.6 85.1L163.5 243.2"/><path d="M197.6 85.1L201.2 255.2"/><path d="M197.6 85.1L180.0 167.8"/><path d="M196.9 90.5L111.9 177.5"/><path d="M196.9 90.5L201.2 255.2"/><path d="M196.9 90.5L144.4 219.2"/><path d="M196.9 90.5L131.6 150.4"/><path d="M196.9 90.5L276.2 216.6"/><path d="M196.9 90.5L290.3 206.8"/><path d="M196.9 90.5L180.0 167.8"/><path d="M192.6 52.6L150.2 280.4"/><path d="M220.9 51.2L201.2 255.2"/><path d="M234.3 51.2L131.6 150.4"/><path d="M234.3 51.2L108.4 175.6"/><path d="M251.5 56.1L180.0 167.8"/><path d="M251.5 56.1L269.8 208.6"/><path d="M261.4 63.2L180.0 167.8"/><path d="M261.4 63.2L150.2 280.4"/><path d="M224.8 63.9L228.2 183.6"/><path d="M224.8 63.9L201.2 255.2"/><path d="M208.9 74.1L180.0 167.8"/><path d="M234.6 100.9L150.2 280.4"/><path d="M256.6 106.3L290.3 206.8"/><path d="M267.9 98.9L274.8 193.1"/><path d="M267.9 98.9L95.2 241.1"/><path d="M286.5 84.4L274.8 193.1"/><path d="M289.4 80.1L180.0 167.8"/><path d="M289.4 80.1L274.8 193.1"/><path d="M289.4 80.1L201.2 255.2"/><path d="M213.1 111.6L95.2 241.1"/><path d="M209.8 115.8L201.2 255.2"/><path d="M31.9 108.6L131.6 150.4"/><path d="M82.1 116.1L201.2 255.2"/><path d="M82.1 116.1L180.0 167.8"/><path d="M116.7 119.7L201.2 255.2"/><path d="M116.7 119.7L180.0 167.8"/><path d="M116.7 119.7L274.8 193.1"/><path d="M149.4 109.8L163.5 243.2"/><path d="M149.4 109.8L108.4 175.6"/><path d="M149.4 109.8L276.2 216.6"/><path d="M140.6 125.3L180.0 167.8"/><path d="M137.0 135.5L68.5 212.1"/><path d="M167.1 138.0L201.2 255.2"/><path d="M205.9 119.7L201.2 255.2"/><path d="M211.5 121.8L290.3 206.8"/><path d="M211.5 121.8L201.2 255.2"/><path d="M206.3 155.7L150.2 280.4"/></g>
<g transform="translate(364.5,0)"><g stroke="#8c8c8c" stroke-opacity="0.5" stroke-width="1.15" fill="none"><path d="M55.0 94.8L58.9 230.1"/><path d="M55.0 94.8L62.1 237.6"/><path d="M58.2 83.9L70.1 222.4"/><path d="M63.9 71.5L72.6 200.6"/><path d="M63.9 71.5L68.5 212.1"/><path d="M102.6 71.5L90.8 204.4"/><path d="M109.0 71.5L90.8 204.4"/><path d="M109.0 71.5L129.9 211.2"/><path d="M89.6 103.8L95.2 241.1"/><path d="M114.6 31.2L127.4 157.2"/><path d="M114.6 31.2L121.6 167.9"/><path d="M113.9 39.7L121.6 167.9"/><path d="M137.9 36.2L146.1 168.5"/><path d="M137.9 36.2L121.6 167.9"/><path d="M135.1 58.8L140.1 187.0"/><path d="M135.1 58.8L149.2 191.9"/><path d="M136.5 60.9L140.1 187.0"/><path d="M136.5 60.9L149.2 191.9"/><path d="M141.5 58.1L140.1 187.0"/><path d="M141.5 58.1L149.2 191.9"/><path d="M159.8 63.7L152.9 199.4"/><path d="M169.0 56.7L166.9 180.1"/><path d="M169.0 56.7L181.8 194.2"/><path d="M169.0 56.7L182.0 180.4"/><path d="M180.3 70.1L181.8 194.2"/><path d="M181.7 57.4L181.8 194.2"/><path d="M199.0 51.5L182.0 180.4"/><path d="M198.3 62.5L181.8 194.2"/><path d="M198.3 62.5L219.7 195.5"/><path d="M114.6 84.9L117.4 219.8"/><path d="M114.6 84.9L99.9 220.8"/><path d="M114.6 84.9L129.9 211.2"/><path d="M130.2 99.5L129.8 228.8"/><path d="M151.1 93.4L157.6 227.6"/><path d="M197.6 85.1L204.4 223.4"/><path d="M197.6 85.1L198.8 212.9"/><path d="M197.6 85.1L174.8 218.8"/><path d="M196.9 90.5L204.4 223.4"/><path d="M192.6 52.6L195.2 182.5"/><path d="M192.6 52.6L182.0 180.4"/><path d="M220.9 51.2L216.1 182.8"/><path d="M234.3 51.2L228.2 183.6"/><path d="M251.5 56.1L251.5 187.0"/><path d="M251.5 56.1L257.1 191.0"/><path d="M261.4 63.2L257.1 191.0"/><path d="M224.8 63.9L219.7 195.5"/><path d="M208.9 74.1L194.5 207.9"/><path d="M208.9 74.1L228.9 218.5"/><path d="M256.6 106.3L240.2 238.3"/><path d="M289.4 80.1L276.2 216.6"/><path d="M213.1 111.6L206.0 251.5"/><path d="M209.8 115.8L206.0 251.5"/><path d="M31.9 108.6L56.0 248.5"/><path d="M82.1 116.1L95.2 241.1"/><path d="M91.2 123.9L125.0 247.1"/><path d="M111.0 127.4L116.8 256.4"/><path d="M111.0 127.4L131.4 261.4"/><path d="M111.0 127.4L125.0 247.1"/><path d="M116.7 119.7L131.4 261.4"/><path d="M116.7 119.7L125.0 247.1"/><path d="M91.2 116.8L95.2 241.1"/><path d="M149.4 109.8L144.5 246.2"/><path d="M149.4 109.8L160.2 247.1"/><path d="M140.6 125.3L131.4 261.4"/><path d="M140.6 125.3L148.4 253.8"/><path d="M137.0 135.5L151.0 272.0"/><path d="M137.0 135.5L150.2 280.4"/><path d="M137.0 135.5L131.4 261.4"/><path d="M167.1 138.0L178.3 281.4"/><path d="M167.1 138.0L167.3 285.4"/><path d="M205.9 119.7L201.2 255.2"/><path d="M205.9 119.7L213.1 247.8"/><path d="M96.9 118.5L116.8 256.4"/><path d="M96.9 118.5L95.2 241.1"/><path d="M58.2 83.9L84.7 221.4"/><path d="M81.1 66.6L101.2 191.1"/><path d="M81.1 66.6L107.3 187.3"/><path d="M120.9 123.2L116.8 256.4"/><path d="M167.1 138.0L187.5 284.1"/><path d="M151.1 93.4L154.3 220.6"/><path d="M211.5 121.8L235.8 256.4"/><path d="M267.9 98.9L267.0 224.4"/><path d="M286.5 84.4L252.9 219.2"/><path d="M286.5 84.4L290.3 206.8"/><path d="M224.8 63.9L240.9 207.2"/><path d="M113.9 39.7L111.9 177.5"/><path d="M159.8 63.7L152.9 212.1"/><path d="M117.5 88.4L99.9 220.8"/></g><g stroke="#0000ff" stroke-opacity="0.23" stroke-width="1.15" fill="none"><path d="M46.5 92.7L58.9 230.1"/><path d="M46.5 92.7L41.8 228.4"/><path d="M55.0 94.8L67.0 232.0"/><path d="M58.2 83.9L68.5 212.1"/><path d="M58.2 83.9L58.9 230.1"/><path d="M63.9 71.5L74.4 206.4"/><path d="M63.9 71.5L90.8 204.4"/><path d="M81.1 66.6L72.6 200.6"/><path d="M109.0 71.5L125.1 204.3"/><path d="M89.6 103.8L95.2 228.4"/><path d="M89.6 103.8L71.9 241.6"/><path d="M89.6 103.8L67.0 232.0"/><path d="M113.9 39.7L124.6 168.4"/><path d="M137.9 36.2L124.6 168.4"/><path d="M137.9 36.2L135.4 156.5"/><path d="M152.1 47.8L151.4 180.5"/><path d="M152.1 47.8L146.0 182.2"/><path d="M136.5 60.9L152.9 199.4"/><path d="M159.8 63.7L167.7 200.1"/><path d="M180.3 70.1L167.7 200.1"/><path d="M180.3 70.1L194.5 207.9"/><path d="M189.5 52.4L195.2 182.5"/><path d="M199.0 51.5L195.2 182.5"/><path d="M199.0 51.5L206.5 181.1"/><path d="M199.0 51.5L216.1 182.8"/><path d="M198.3 62.5L195.2 182.5"/><path d="M114.6 84.9L136.7 223.1"/><path d="M117.5 88.4L117.4 219.8"/><path d="M117.5 88.4L129.8 228.8"/><path d="M117.5 88.4L136.7 223.1"/><path d="M130.2 99.5L140.5 229.1"/><path d="M130.2 99.5L136.7 223.1"/><path d="M151.1 93.4L140.5 229.1"/><path d="M199.0 80.1L198.8 212.9"/><path d="M199.0 80.1L194.5 207.9"/><path d="M234.3 51.2L244.4 181.8"/><path d="M251.5 56.1L244.4 181.8"/><path d="M251.5 56.1L228.2 183.6"/><path d="M224.8 63.9L243.0 198.7"/><path d="M214.5 71.7L219.7 195.5"/><path d="M214.5 71.7L194.5 207.9"/><path d="M208.9 74.1L198.8 212.9"/><path d="M208.9 74.1L219.7 195.5"/><path d="M218.7 96.4L209.2 229.1"/><path d="M218.7 96.4L209.6 236.8"/><path d="M234.6 100.9L230.7 233.6"/><path d="M234.6 100.9L240.2 238.3"/><path d="M234.6 100.9L240.9 234.7"/><path d="M256.6 106.3L263.5 236.6"/><path d="M267.9 98.9L263.5 236.6"/><path d="M286.5 84.4L276.2 216.6"/><path d="M286.5 84.4L267.0 224.4"/><path d="M286.5 84.4L269.8 208.6"/><path d="M213.1 111.6L213.1 247.8"/><path d="M209.8 115.8L201.2 255.2"/><path d="M31.9 108.6L29.9 240.7"/><path d="M91.2 123.9L116.8 256.4"/><path d="M91.2 123.9L131.4 261.4"/><path d="M91.2 123.9L95.2 241.1"/><path d="M116.7 119.7L116.8 256.4"/><path d="M116.7 119.7L148.4 253.8"/><path d="M120.9 123.2L131.4 261.4"/><path d="M91.2 116.8L116.8 256.4"/><path d="M91.2 116.8L71.9 241.6"/><path d="M140.6 125.3L151.0 272.0"/><path d="M137.0 135.5L167.3 285.4"/><path d="M205.9 119.7L206.0 251.5"/><path d="M211.5 121.8L201.2 255.2"/><path d="M206.3 155.7L199.5 297.4"/><path d="M206.3 155.7L208.3 292.1"/><path d="M96.9 118.5L125.0 247.1"/><path d="M96.9 118.5L131.4 261.4"/><path d="M31.9 108.6L57.1 240.4"/><path d="M55.0 94.8L70.1 222.4"/><path d="M135.1 58.8L110.8 190.3"/><path d="M130.2 99.5L125.0 247.1"/><path d="M149.4 109.8L169.1 236.9"/><path d="M196.9 90.5L174.8 218.8"/><path d="M206.3 155.7L220.0 276.8"/><path d="M261.4 63.2L243.0 198.7"/><path d="M251.5 56.1L274.8 193.1"/><path d="M136.5 60.9L143.9 206.1"/><path d="M130.2 99.5L157.6 227.6"/><path d="M218.7 96.4L217.5 238.2"/><path d="M196.9 90.5L209.2 229.1"/></g></g>
<g><path d="M46.5 92.7L55.0 94.8M46.5 92.7L58.2 83.9M55.0 94.8L58.2 83.9M58.2 83.9L63.9 71.5M63.9 71.5L81.1 66.6M81.1 66.6L102.6 71.5M102.6 71.5L109.0 71.5M89.6 103.8L82.1 116.1M89.6 103.8L91.2 116.8M114.6 31.2L113.9 39.7M114.6 31.2L137.9 36.2M113.9 39.7L137.9 36.2M152.1 47.8L135.1 58.8M152.1 47.8L159.8 63.7M152.1 47.8L169.0 56.7M135.1 58.8L141.5 58.1M135.1 58.8L159.8 63.7M135.1 58.8L169.0 56.7M136.5 60.9L159.8 63.7M141.5 58.1L169.0 56.7M159.8 63.7L169.0 56.7M159.8 63.7L180.3 70.1M169.0 56.7L181.7 57.4M180.3 70.1L198.3 62.5M181.7 57.4L189.5 52.4M181.7 57.4L198.3 62.5M189.5 52.4L199.0 51.5M189.5 52.4L198.3 62.5M199.0 51.5L220.9 51.2M198.3 62.5L192.6 52.6M198.3 62.5L214.5 71.7M114.6 84.9L117.5 88.4M117.5 88.4L130.2 99.5M130.2 99.5L151.1 93.4M199.0 80.1L197.6 85.1M199.0 80.1L208.9 74.1M197.6 85.1L196.9 90.5M196.9 90.5L218.7 96.4M220.9 51.2L234.3 51.2M234.3 51.2L251.5 56.1M251.5 56.1L261.4 63.2M224.8 63.9L214.5 71.7M214.5 71.7L208.9 74.1M218.7 96.4L234.6 100.9M234.6 100.9L256.6 106.3M256.6 106.3L267.9 98.9M286.5 84.4L289.4 80.1M213.1 111.6L209.8 115.8M209.8 115.8L205.9 119.7M209.8 115.8L211.5 121.8M82.1 116.1L91.2 123.9M82.1 116.1L91.2 116.8M91.2 123.9L111.0 127.4M91.2 123.9L116.7 119.7M91.2 123.9L91.2 116.8M111.0 127.4L116.7 119.7M111.0 127.4L120.9 123.2M116.7 119.7L120.9 123.2M116.7 119.7L91.2 116.8M120.9 123.2L140.6 125.3M91.2 116.8L96.9 118.5M140.6 125.3L137.0 135.5M205.9 119.7L211.5 121.8" stroke="#00008b" stroke-width="2.2" fill="none"/>
<g fill="#00008b"><circle cx="46.5" cy="92.7" r="3.2"/><circle cx="55.0" cy="94.8" r="3.2"/><circle cx="58.2" cy="83.9" r="3.2"/><circle cx="63.9" cy="71.5" r="3.2"/><circle cx="81.1" cy="66.6" r="3.2"/><circle cx="102.6" cy="71.5" r="3.2"/><circle cx="109.0" cy="71.5" r="3.2"/><circle cx="89.6" cy="103.8" r="3.2"/><circle cx="114.6" cy="31.2" r="3.2"/><circle cx="113.9" cy="39.7" r="3.2"/><circle cx="137.9" cy="36.2" r="3.2"/><circle cx="152.1" cy="47.8" r="3.2"/><circle cx="135.1" cy="58.8" r="3.2"/><circle cx="136.5" cy="60.9" r="3.2"/><circle cx="141.5" cy="58.1" r="3.2"/><circle cx="159.8" cy="63.7" r="3.2"/><circle cx="169.0" cy="56.7" r="3.2"/><circle cx="180.3" cy="70.1" r="3.2"/><circle cx="181.7" cy="57.4" r="3.2"/><circle cx="189.5" cy="52.4" r="3.2"/><circle cx="199.0" cy="51.5" r="3.2"/><circle cx="198.3" cy="62.5" r="3.2"/><circle cx="114.6" cy="84.9" r="3.2"/><circle cx="117.5" cy="88.4" r="3.2"/><circle cx="130.2" cy="99.5" r="3.2"/><circle cx="151.1" cy="93.4" r="3.2"/><circle cx="199.0" cy="80.1" r="3.2"/><circle cx="197.6" cy="85.1" r="3.2"/><circle cx="196.9" cy="90.5" r="3.2"/><circle cx="192.6" cy="52.6" r="3.2"/><circle cx="220.9" cy="51.2" r="3.2"/><circle cx="234.3" cy="51.2" r="3.2"/><circle cx="251.5" cy="56.1" r="3.2"/><circle cx="261.4" cy="63.2" r="3.2"/><circle cx="224.8" cy="63.9" r="3.2"/><circle cx="214.5" cy="71.7" r="3.2"/><circle cx="208.9" cy="74.1" r="3.2"/><circle cx="218.7" cy="96.4" r="3.2"/><circle cx="234.6" cy="100.9" r="3.2"/><circle cx="256.6" cy="106.3" r="3.2"/><circle cx="267.9" cy="98.9" r="3.2"/><circle cx="286.5" cy="84.4" r="3.2"/><circle cx="289.4" cy="80.1" r="3.2"/><circle cx="213.1" cy="111.6" r="3.2"/><circle cx="209.8" cy="115.8" r="3.2"/><circle cx="31.9" cy="108.6" r="3.2"/><circle cx="82.1" cy="116.1" r="3.2"/><circle cx="91.2" cy="123.9" r="3.2"/><circle cx="111.0" cy="127.4" r="3.2"/><circle cx="116.7" cy="119.7" r="3.2"/><circle cx="120.9" cy="123.2" r="3.2"/><circle cx="91.2" cy="116.8" r="3.2"/><circle cx="149.4" cy="109.8" r="3.2"/><circle cx="140.6" cy="125.3" r="3.2"/><circle cx="137.0" cy="135.5" r="3.2"/><circle cx="167.1" cy="138.0" r="3.2"/><circle cx="205.9" cy="119.7" r="3.2"/><circle cx="211.5" cy="121.8" r="3.2"/><circle cx="206.3" cy="155.7" r="3.2"/><circle cx="96.9" cy="118.5" r="3.2"/></g></g><g transform="translate(364.5,0)"><path d="M46.5 92.7L55.0 94.8M46.5 92.7L58.2 83.9M55.0 94.8L58.2 83.9M58.2 83.9L63.9 71.5M63.9 71.5L81.1 66.6M81.1 66.6L102.6 71.5M102.6 71.5L109.0 71.5M89.6 103.8L82.1 116.1M89.6 103.8L91.2 116.8M114.6 31.2L113.9 39.7M114.6 31.2L137.9 36.2M113.9 39.7L137.9 36.2M152.1 47.8L135.1 58.8M152.1 47.8L159.8 63.7M152.1 47.8L169.0 56.7M135.1 58.8L141.5 58.1M135.1 58.8L159.8 63.7M135.1 58.8L169.0 56.7M136.5 60.9L159.8 63.7M141.5 58.1L169.0 56.7M159.8 63.7L169.0 56.7M159.8 63.7L180.3 70.1M169.0 56.7L181.7 57.4M180.3 70.1L198.3 62.5M181.7 57.4L189.5 52.4M181.7 57.4L198.3 62.5M189.5 52.4L199.0 51.5M189.5 52.4L198.3 62.5M199.0 51.5L220.9 51.2M198.3 62.5L192.6 52.6M198.3 62.5L214.5 71.7M114.6 84.9L117.5 88.4M117.5 88.4L130.2 99.5M130.2 99.5L151.1 93.4M199.0 80.1L197.6 85.1M199.0 80.1L208.9 74.1M197.6 85.1L196.9 90.5M196.9 90.5L218.7 96.4M220.9 51.2L234.3 51.2M234.3 51.2L251.5 56.1M251.5 56.1L261.4 63.2M224.8 63.9L214.5 71.7M214.5 71.7L208.9 74.1M218.7 96.4L234.6 100.9M234.6 100.9L256.6 106.3M256.6 106.3L267.9 98.9M286.5 84.4L289.4 80.1M213.1 111.6L209.8 115.8M209.8 115.8L205.9 119.7M209.8 115.8L211.5 121.8M82.1 116.1L91.2 123.9M82.1 116.1L91.2 116.8M91.2 123.9L111.0 127.4M91.2 123.9L116.7 119.7M91.2 123.9L91.2 116.8M111.0 127.4L116.7 119.7M111.0 127.4L120.9 123.2M116.7 119.7L120.9 123.2M116.7 119.7L91.2 116.8M120.9 123.2L140.6 125.3M91.2 116.8L96.9 118.5M140.6 125.3L137.0 135.5M205.9 119.7L211.5 121.8" stroke="#00008b" stroke-width="2.2" fill="none"/>
<g fill="#00008b"><circle cx="46.5" cy="92.7" r="3.2"/><circle cx="55.0" cy="94.8" r="3.2"/><circle cx="58.2" cy="83.9" r="3.2"/><circle cx="63.9" cy="71.5" r="3.2"/><circle cx="81.1" cy="66.6" r="3.2"/><circle cx="102.6" cy="71.5" r="3.2"/><circle cx="109.0" cy="71.5" r="3.2"/><circle cx="89.6" cy="103.8" r="3.2"/><circle cx="114.6" cy="31.2" r="3.2"/><circle cx="113.9" cy="39.7" r="3.2"/><circle cx="137.9" cy="36.2" r="3.2"/><circle cx="152.1" cy="47.8" r="3.2"/><circle cx="135.1" cy="58.8" r="3.2"/><circle cx="136.5" cy="60.9" r="3.2"/><circle cx="141.5" cy="58.1" r="3.2"/><circle cx="159.8" cy="63.7" r="3.2"/><circle cx="169.0" cy="56.7" r="3.2"/><circle cx="180.3" cy="70.1" r="3.2"/><circle cx="181.7" cy="57.4" r="3.2"/><circle cx="189.5" cy="52.4" r="3.2"/><circle cx="199.0" cy="51.5" r="3.2"/><circle cx="198.3" cy="62.5" r="3.2"/><circle cx="114.6" cy="84.9" r="3.2"/><circle cx="117.5" cy="88.4" r="3.2"/><circle cx="130.2" cy="99.5" r="3.2"/><circle cx="151.1" cy="93.4" r="3.2"/><circle cx="199.0" cy="80.1" r="3.2"/><circle cx="197.6" cy="85.1" r="3.2"/><circle cx="196.9" cy="90.5" r="3.2"/><circle cx="192.6" cy="52.6" r="3.2"/><circle cx="220.9" cy="51.2" r="3.2"/><circle cx="234.3" cy="51.2" r="3.2"/><circle cx="251.5" cy="56.1" r="3.2"/><circle cx="261.4" cy="63.2" r="3.2"/><circle cx="224.8" cy="63.9" r="3.2"/><circle cx="214.5" cy="71.7" r="3.2"/><circle cx="208.9" cy="74.1" r="3.2"/><circle cx="218.7" cy="96.4" r="3.2"/><circle cx="234.6" cy="100.9" r="3.2"/><circle cx="256.6" cy="106.3" r="3.2"/><circle cx="267.9" cy="98.9" r="3.2"/><circle cx="286.5" cy="84.4" r="3.2"/><circle cx="289.4" cy="80.1" r="3.2"/><circle cx="213.1" cy="111.6" r="3.2"/><circle cx="209.8" cy="115.8" r="3.2"/><circle cx="31.9" cy="108.6" r="3.2"/><circle cx="82.1" cy="116.1" r="3.2"/><circle cx="91.2" cy="123.9" r="3.2"/><circle cx="111.0" cy="127.4" r="3.2"/><circle cx="116.7" cy="119.7" r="3.2"/><circle cx="120.9" cy="123.2" r="3.2"/><circle cx="91.2" cy="116.8" r="3.2"/><circle cx="149.4" cy="109.8" r="3.2"/><circle cx="140.6" cy="125.3" r="3.2"/><circle cx="137.0" cy="135.5" r="3.2"/><circle cx="167.1" cy="138.0" r="3.2"/><circle cx="205.9" cy="119.7" r="3.2"/><circle cx="211.5" cy="121.8" r="3.2"/><circle cx="206.3" cy="155.7" r="3.2"/><circle cx="96.9" cy="118.5" r="3.2"/></g></g>
<g font-family="'Liberation Serif', serif" fill="#111" font-size="20"><text x="19.2" y="19" font-style="italic">δ</text><text x="58.0" y="19">0.5</text></g><path d="M37.9 10.9H49.9M37.9 15.05H49.9" stroke="#111" stroke-width="1.35"/>
<g font-family="'Liberation Serif', serif" fill="#111" font-size="20"><text x="380.7" y="19" font-style="italic">δ</text><text x="418.6" y="19">10</text></g><path d="M399.5 10.9H411.5M399.5 15.05H411.5" stroke="#111" stroke-width="1.35"/>
<path d="M70.0 350.5V607.0M94.3 350.5V607.0M113.1 350.5V607.0M128.6 350.5V607.0M141.6 350.5V607.0M152.9 350.5V607.0M162.8 350.5V607.0M171.7 350.5V607.0M230.3 350.5V607.0M264.5 350.5V607.0M288.8 350.5V607.0M307.6 350.5V607.0M58.4 605.4H321.2M58.4 595.4H321.2M58.4 587.2H321.2M58.4 580.3H321.2M58.4 574.3H321.2M58.4 569.0H321.2M58.4 564.3H321.2M58.4 533.2H321.2M58.4 515.0H321.2M58.4 502.0H321.2M58.4 492.0H321.2M58.4 483.8H321.2M58.4 476.9H321.2M58.4 470.9H321.2M58.4 465.6H321.2M58.4 460.9H321.2M58.4 429.8H321.2M58.4 411.6H321.2M58.4 398.6H321.2M58.4 388.6H321.2M58.4 380.4H321.2M58.4 373.5H321.2M58.4 367.5H321.2M58.4 362.2H321.2M58.4 357.5H321.2" stroke="#a8a8a8" stroke-width="0.8" stroke-dasharray="1.1,1.1" fill="none"/>
<path d="M58.4 357.5h-2.2M58.4 460.9h-2.2M58.4 564.3h-2.2M58.4 605.4h-2M58.4 595.4h-2M58.4 587.2h-2M58.4 580.3h-2M58.4 574.3h-2M58.4 569.0h-2M58.4 533.2h-2M58.4 515.0h-2M58.4 502.0h-2M58.4 492.0h-2M58.4 483.8h-2M58.4 476.9h-2M58.4 470.9h-2M58.4 465.6h-2M58.4 429.8h-2M58.4 411.6h-2M58.4 398.6h-2M58.4 388.6h-2M58.4 380.4h-2M58.4 373.5h-2M58.4 367.5h-2M58.4 362.2h-2M70.0 607.0v2.2M171.7 607.0v2.2M264.5 607.0v2.2M94.3 607.0v2M113.1 607.0v2M128.6 607.0v2M141.6 607.0v2M152.9 607.0v2M162.8 607.0v2M230.3 607.0v2M288.8 607.0v2M307.6 607.0v2" stroke="#333" stroke-width="0.8" fill="none"/>
<rect x="58.4" y="350.5" width="262.85" height="256.5" fill="none" stroke="#555" stroke-width="1"/>
<g fill="#1a1a1a" stroke="#1a1a1a" stroke-width="0.25"><text x="53.3" y="362.5" font-size="12.8" text-anchor="end" textLength="7.5" lengthAdjust="spacingAndGlyphs" >1</text><text x="53.3" y="465.9" font-size="12.8" text-anchor="end" textLength="18.5" lengthAdjust="spacingAndGlyphs" >0.1</text><text x="53.3" y="569.3" font-size="12.8" text-anchor="end" textLength="27.2" lengthAdjust="spacingAndGlyphs" >0.01</text><text x="70.0" y="620.8" font-size="13.2" text-anchor="middle" textLength="7.5" lengthAdjust="spacingAndGlyphs" >3</text><text x="171.7" y="620.8" font-size="13.2" text-anchor="middle" textLength="15.2" lengthAdjust="spacingAndGlyphs" >10</text><text x="264.5" y="620.8" font-size="13.2" text-anchor="middle" textLength="15.2" lengthAdjust="spacingAndGlyphs" >30</text></g>
<g fill="#1f77b4" stroke="#111" stroke-width="1.15"><circle cx="70.0" cy="362.2" r="4.6"/><circle cx="162.8" cy="483.8" r="4.6"/><circle cx="206.2" cy="564.2" r="4.6"/><circle cx="234.5" cy="564.2" r="4.6"/><circle cx="255.8" cy="595.5" r="4.6"/><circle cx="272.8" cy="595.5" r="4.6"/><circle cx="298.8" cy="595.5" r="4.6"/></g>
<path d="M465.8 351.2V605.2M498.4 351.2V605.2M530.9 351.2V605.2M563.4 351.2V605.2M595.9 351.2V605.2M628.5 351.2V605.2M661.0 351.2V605.2M433.3 562.9H693.5M433.3 520.6H693.5M433.3 478.2H693.5M433.3 435.9H693.5M433.3 393.6H693.5" stroke="#a8a8a8" stroke-width="0.8" stroke-dasharray="1.1,1.1" fill="none"/>
<path d="M433.3 605.2h-2.2M433.3 562.9h-2.2M433.3 520.6h-2.2M433.3 478.2h-2.2M433.3 435.9h-2.2M433.3 393.6h-2.2M433.3 351.2h-2.2M433.3 605.2v2.2M465.8 605.2v2.2M498.4 605.2v2.2M530.9 605.2v2.2M563.4 605.2v2.2M595.9 605.2v2.2M628.5 605.2v2.2M661.0 605.2v2.2M693.5 605.2v2.2" stroke="#333" stroke-width="0.8" fill="none"/>
<rect x="433.3" y="351.25" width="260.2" height="253.95000000000005" fill="none" stroke="#555" stroke-width="1"/>
<g fill="#1a1a1a" stroke="#1a1a1a" stroke-width="0.25"><text x="429.1" y="610.2" font-size="12.8" text-anchor="end" textLength="27" lengthAdjust="spacingAndGlyphs" >0.00</text><text x="429.1" y="567.9" font-size="12.8" text-anchor="end" textLength="27" lengthAdjust="spacingAndGlyphs" >0.05</text><text x="429.1" y="525.6" font-size="12.8" text-anchor="end" textLength="27" lengthAdjust="spacingAndGlyphs" >0.10</text><text x="429.1" y="483.2" font-size="12.8" text-anchor="end" textLength="27" lengthAdjust="spacingAndGlyphs" >0.15</text><text x="429.1" y="440.9" font-size="12.8" text-anchor="end" textLength="27" lengthAdjust="spacingAndGlyphs" >0.20</text><text x="429.1" y="398.6" font-size="12.8" text-anchor="end" textLength="27" lengthAdjust="spacingAndGlyphs" >0.25</text><text x="429.1" y="356.2" font-size="12.8" text-anchor="end" textLength="27" lengthAdjust="spacingAndGlyphs" >0.30</text><text x="433.3" y="619.0" font-size="13.2" text-anchor="middle" textLength="7.8" lengthAdjust="spacingAndGlyphs" >0</text><text x="465.8" y="619.0" font-size="13.2" text-anchor="middle" textLength="7.8" lengthAdjust="spacingAndGlyphs" >1</text><text x="498.4" y="619.0" font-size="13.2" text-anchor="middle" textLength="7.8" lengthAdjust="spacingAndGlyphs" >2</text><text x="530.9" y="619.0" font-size="13.2" text-anchor="middle" textLength="7.8" lengthAdjust="spacingAndGlyphs" >3</text><text x="563.4" y="619.0" font-size="13.2" text-anchor="middle" textLength="7.8" lengthAdjust="spacingAndGlyphs" >4</text><text x="595.9" y="619.0" font-size="13.2" text-anchor="middle" textLength="7.8" lengthAdjust="spacingAndGlyphs" >5</text><text x="628.5" y="619.0" font-size="13.2" text-anchor="middle" textLength="7.8" lengthAdjust="spacingAndGlyphs" >6</text><text x="661.0" y="619.0" font-size="13.2" text-anchor="middle" textLength="7.8" lengthAdjust="spacingAndGlyphs" >7</text><text x="693.5" y="619.0" font-size="13.2" text-anchor="middle" textLength="7.8" lengthAdjust="spacingAndGlyphs" >8</text></g>
<g fill="#1f77b4" stroke="#111" stroke-width="1.15"><circle cx="449.6" cy="448.6" r="4.6"/><circle cx="482.1" cy="389.3" r="4.6"/><circle cx="514.6" cy="397.8" r="4.6"/><circle cx="547.1" cy="495.2" r="4.6"/><circle cx="579.7" cy="529.0" r="4.6"/><circle cx="612.2" cy="541.7" r="4.6"/><circle cx="644.7" cy="596.7" r="4.6"/><circle cx="677.2" cy="596.7" r="4.6"/></g>
<text x="160.3" y="636.8" font-size="14.6" font-style="italic" fill="#1a1a1a" stroke="#1a1a1a" stroke-width="0.3" textLength="58" lengthAdjust="spacingAndGlyphs">k<tspan font-size="11.2" dy="3.4">interlayer</tspan></text>
<text x="534.6" y="636.8" font-size="14.6" font-style="italic" fill="#1a1a1a" stroke="#1a1a1a" stroke-width="0.3" textLength="58" lengthAdjust="spacingAndGlyphs">k<tspan font-size="11.2" dy="3.4">interlayer</tspan></text>
<text transform="translate(17.6,518.8) rotate(-90)" x="0" y="0" font-size="13.2" font-style="italic" fill="#1a1a1a" stroke="#1a1a1a" stroke-width="0.3" textLength="82" lengthAdjust="spacingAndGlyphs">P <tspan font-style="normal">(</tspan>k<tspan font-size="10" dy="2.8">interlayer</tspan><tspan dy="-2.8" font-style="normal">)</tspan></text>
<text transform="translate(394.4,519.3) rotate(-90)" x="0" y="0" font-size="13.2" font-style="italic" fill="#1a1a1a" stroke="#1a1a1a" stroke-width="0.3" textLength="82" lengthAdjust="spacingAndGlyphs">P <tspan font-style="normal">(</tspan>k<tspan font-size="10" dy="2.8">interlayer</tspan><tspan dy="-2.8" font-style="normal">)</tspan></text>
</svg></body></html>
